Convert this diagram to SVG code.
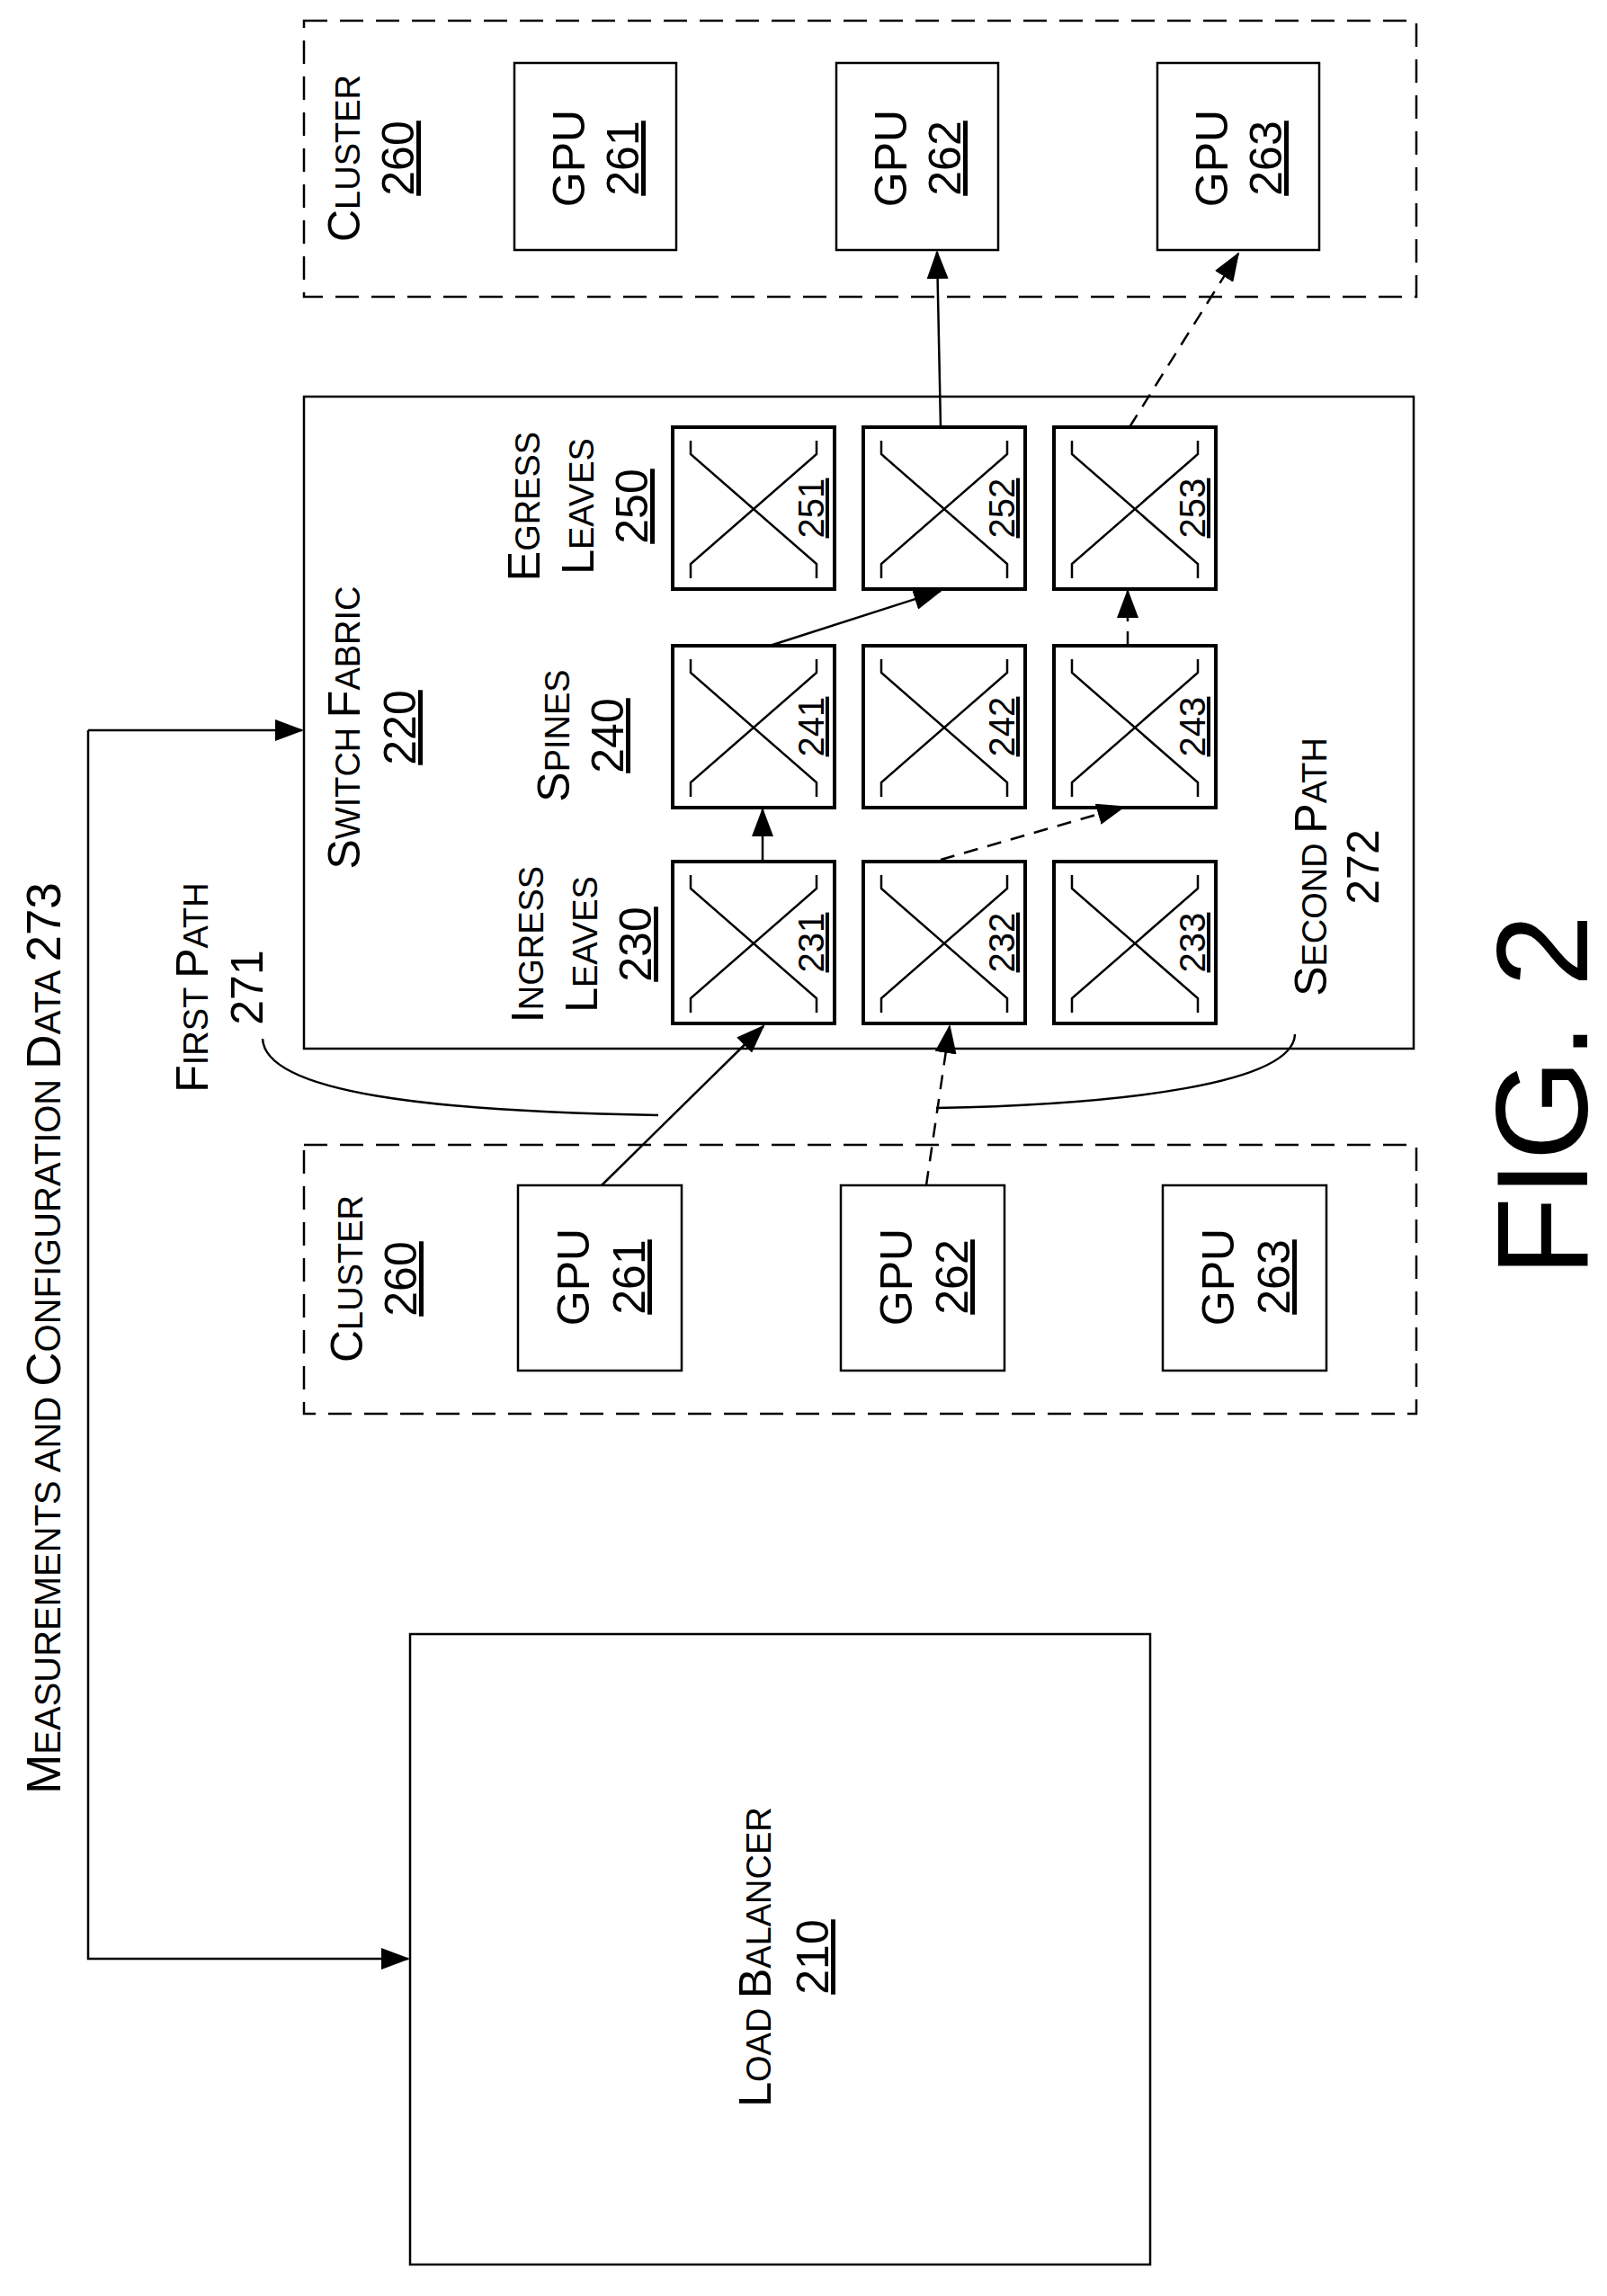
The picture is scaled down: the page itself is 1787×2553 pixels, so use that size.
<svg xmlns="http://www.w3.org/2000/svg" xmlns:xlink="http://www.w3.org/1999/xlink" width="1787" height="2553" viewBox="0 0 1787 2553">
<style>
text{font-family:"Liberation Sans",Arial,sans-serif;fill:#000;text-anchor:middle}
.l{font-size:50px}
.s{font-size:38px}
.n{font-size:40px;text-decoration:underline}
.u{text-decoration:underline}
.box{fill:#fff;stroke:#000;stroke-width:2.5}
.clu{fill:none;stroke:#000;stroke-width:2.5;stroke-dasharray:26 14}
.ln{fill:none;stroke:#000;stroke-width:2.5}
.dl{fill:none;stroke:#000;stroke-width:2.5;stroke-dasharray:16 11}
</style>
<defs>
<marker id="ah" markerUnits="userSpaceOnUse" markerWidth="32" markerHeight="24" refX="30" refY="12" orient="auto"><path d="M0,0 L32,12 L0,24 Z" fill="#000"/></marker>
<g id="sw"><rect x="0" y="0" width="180" height="180" fill="#fff" stroke="#000" stroke-width="4"/><polyline points="20,15 20,30 160,152 160,168" fill="none" stroke="#000" stroke-width="2.5"/><polyline points="160,15 160,30 20,152 20,168" fill="none" stroke="#000" stroke-width="2.5"/></g>
</defs>

<g id="cluster-top">
<rect class="clu" x="338" y="23" width="1237" height="307"/>
<text transform="translate(400,176) rotate(-90)"><tspan class="l">C</tspan><tspan class="s">LUSTER</tspan><tspan x="0" dy="60" class="l u">260</tspan></text>
</g>
<g id="gpu-top-261"><rect class="box" x="572" y="70" width="180" height="208"/><text transform="translate(650,176) rotate(-90)" class="l">GPU<tspan x="0" dy="60" class="u">261</tspan></text></g>
<g id="gpu-top-262"><rect class="box" x="930" y="70" width="180" height="208"/><text transform="translate(1008,176) rotate(-90)" class="l">GPU<tspan x="0" dy="60" class="u">262</tspan></text></g>
<g id="gpu-top-263"><rect class="box" x="1287" y="70" width="180" height="208"/><text transform="translate(1365,176) rotate(-90)" class="l">GPU<tspan x="0" dy="60" class="u">263</tspan></text></g>

<g id="switch-fabric">
<rect class="box" x="338" y="441" width="1234" height="725" stroke-width="3"/>
<text transform="translate(400,809) rotate(-90)"><tspan class="l">S</tspan><tspan class="s">WITCH </tspan><tspan class="l">F</tspan><tspan class="s">ABRIC</tspan><tspan x="0" dy="62" class="l u">220</tspan></text>
<text transform="translate(604,1050) rotate(-90)"><tspan class="l">I</tspan><tspan class="s">NGRESS</tspan><tspan x="0" dy="60" class="l">L</tspan><tspan class="s">EAVES</tspan><tspan x="0" dy="60" class="l u">230</tspan></text>
<text transform="translate(633,818) rotate(-90)"><tspan class="l">S</tspan><tspan class="s">PINES</tspan><tspan x="0" dy="60" class="l u">240</tspan></text>
<text transform="translate(600,563) rotate(-90)"><tspan class="l">E</tspan><tspan class="s">GRESS</tspan><tspan x="0" dy="60" class="l">L</tspan><tspan class="s">EAVES</tspan><tspan x="0" dy="60" class="l u">250</tspan></text>
</g>

<g id="sw-251"><use xlink:href="#sw" x="748" y="475"/><text class="n" transform="translate(916,565) rotate(-90)">251</text></g>
<g id="sw-252"><use xlink:href="#sw" x="960" y="475"/><text class="n" transform="translate(1128,565) rotate(-90)">252</text></g>
<g id="sw-253"><use xlink:href="#sw" x="1172" y="475"/><text class="n" transform="translate(1340,565) rotate(-90)">253</text></g>
<g id="sw-241"><use xlink:href="#sw" x="748" y="718"/><text class="n" transform="translate(916,808) rotate(-90)">241</text></g>
<g id="sw-242"><use xlink:href="#sw" x="960" y="718"/><text class="n" transform="translate(1128,808) rotate(-90)">242</text></g>
<g id="sw-243"><use xlink:href="#sw" x="1172" y="718"/><text class="n" transform="translate(1340,808) rotate(-90)">243</text></g>
<g id="sw-231"><use xlink:href="#sw" x="748" y="958"/><text class="n" transform="translate(916,1048) rotate(-90)">231</text></g>
<g id="sw-232"><use xlink:href="#sw" x="960" y="958"/><text class="n" transform="translate(1128,1048) rotate(-90)">232</text></g>
<g id="sw-233"><use xlink:href="#sw" x="1172" y="958"/><text class="n" transform="translate(1340,1048) rotate(-90)">233</text></g>

<g id="cluster-bottom">
<rect class="clu" x="338" y="1273" width="1237" height="299"/>
<text transform="translate(403,1422) rotate(-90)"><tspan class="l">C</tspan><tspan class="s">LUSTER</tspan><tspan x="0" dy="60" class="l u">260</tspan></text>
</g>
<g id="gpu-bot-261"><rect class="box" x="576" y="1318" width="182" height="206"/><text transform="translate(655,1420) rotate(-90)" class="l">GPU<tspan x="0" dy="62" class="u">261</tspan></text></g>
<g id="gpu-bot-262"><rect class="box" x="935" y="1318" width="182" height="206"/><text transform="translate(1014,1420) rotate(-90)" class="l">GPU<tspan x="0" dy="62" class="u">262</tspan></text></g>
<g id="gpu-bot-263"><rect class="box" x="1293" y="1318" width="182" height="206"/><text transform="translate(1372,1420) rotate(-90)" class="l">GPU<tspan x="0" dy="62" class="u">263</tspan></text></g>

<g id="load-balancer">
<rect class="box" x="456" y="1817" width="823" height="701"/>
<text transform="translate(857,2176) rotate(-90)"><tspan class="l">L</tspan><tspan class="s">OAD </tspan><tspan class="l">B</tspan><tspan class="s">ALANCER</tspan><tspan x="0" dy="64" class="l u">210</tspan></text>
</g>

<g id="labels">
<text transform="translate(67,1488) rotate(-90)"><tspan style="font-size:53px">M</tspan><tspan style="font-size:40px">EASUREMENTS AND </tspan><tspan style="font-size:53px">C</tspan><tspan style="font-size:40px">ONFIGURATION </tspan><tspan style="font-size:53px">D</tspan><tspan style="font-size:40px">ATA </tspan><tspan style="font-size:53px">273</tspan></text>
<text transform="translate(231,1098) rotate(-90)"><tspan class="l">F</tspan><tspan class="s">IRST </tspan><tspan class="l">P</tspan><tspan class="s">ATH</tspan><tspan x="0" dy="61" class="l">271</tspan></text>
<text transform="translate(1475,964) rotate(-90)"><tspan class="l">S</tspan><tspan class="s">ECOND </tspan><tspan class="l">P</tspan><tspan class="s">ATH</tspan><tspan x="0" dy="58" class="l">272</tspan></text>
<text transform="translate(1765,1218) rotate(-90)" style="font-size:145px">FIG. 2</text>
</g>

<g id="connectors">
<path class="ln" d="M98,812 L98,2178 L454,2178" marker-end="url(#ah)"/>
<path class="ln" d="M98,812 L336,812" marker-end="url(#ah)"/>
<path class="ln" d="M669,1318 L849,1141" marker-end="url(#ah)"/>
<path class="dl" d="M1030,1318 L1056,1141" marker-end="url(#ah)"/>
<path class="ln" d="M848,958 L848,900" marker-end="url(#ah)"/>
<path class="dl" d="M1046,956 L1250,897" marker-end="url(#ah)"/>
<path class="ln" d="M856,718 L1046,657" marker-end="url(#ah)"/>
<path class="dl" d="M1254,718 L1254,657" marker-end="url(#ah)"/>
<path class="ln" d="M1046,475 L1042,280" marker-end="url(#ah)"/>
<path class="dl" d="M1256,475 L1377,282" marker-end="url(#ah)"/>
<path class="ln" d="M292,1155 C295,1215 480,1236 732,1240"/>
<path class="ln" d="M1440,1150 C1438,1205 1250,1228 1041,1232"/>
</g>
</svg>
